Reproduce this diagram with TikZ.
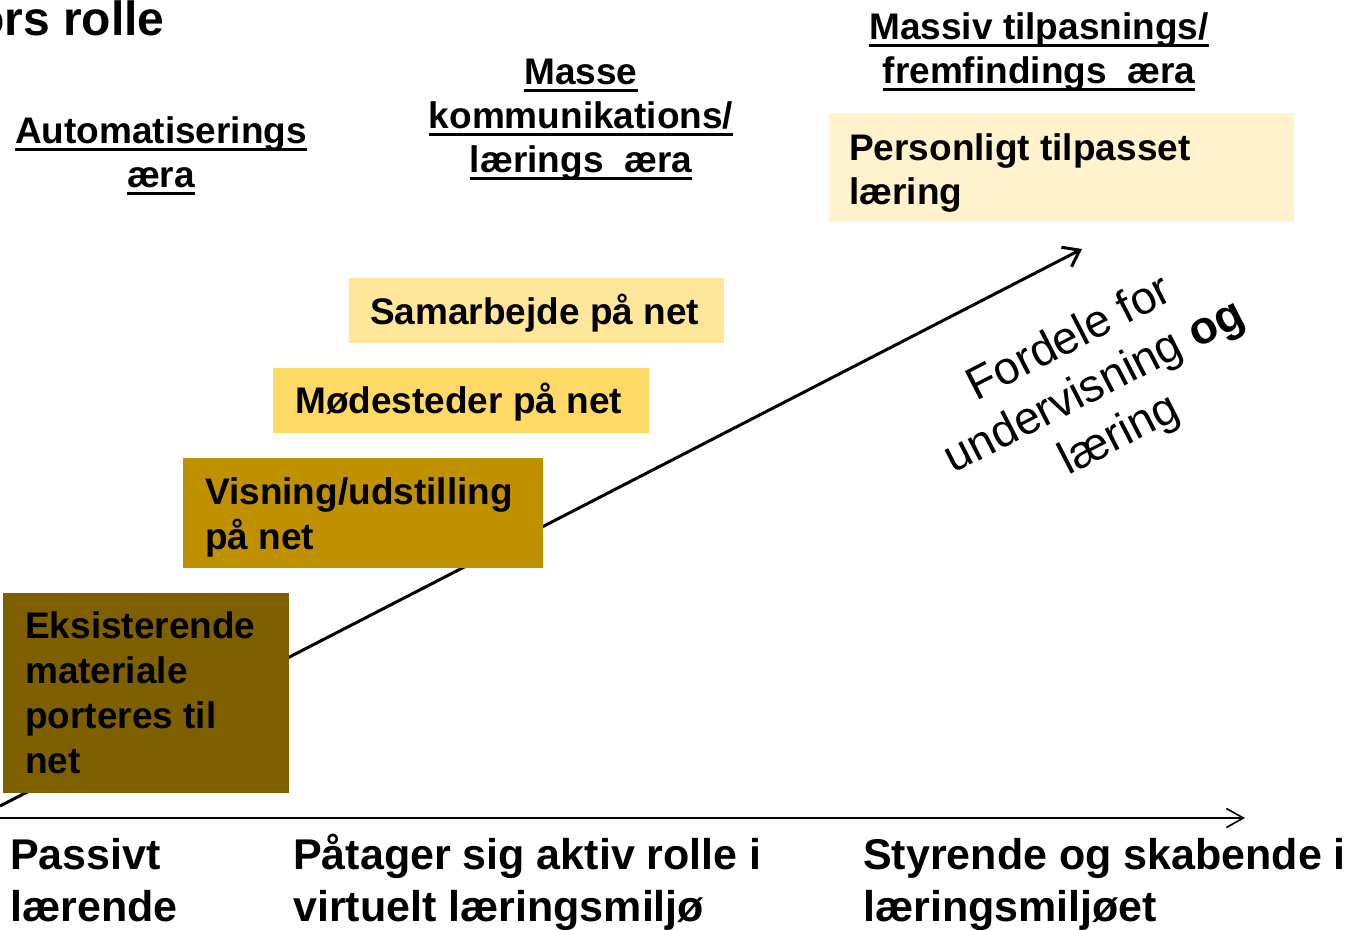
\documentclass[tikz,border=0pt]{standalone}
\usepackage{fontspec}
\setmainfont{Liberation Sans}
\usetikzlibrary{arrows.meta}
\definecolor{cDark}{HTML}{7F6000}
\definecolor{cGold}{HTML}{BF9000}
\definecolor{cMid}{HTML}{FFD966}
\definecolor{cLight}{HTML}{FFE699}
\definecolor{cPale}{HTML}{FFF2CC}
\newcommand\myul[1]{\setbox0\hbox{#1}\rlap{\rule[-8pt]{\wd0}{3pt}}\box0}
\begin{document}
\begin{tikzpicture}[x=1pt,y=-1pt,
  boxfill/.style={draw=none, inner sep=0pt, anchor=north west},
  boxtxt/.style={anchor=base west, inner sep=0pt, font=\fontsize{37}{45}\selectfont\bfseries},
  head/.style={anchor=base, inner sep=0pt, font=\fontsize{37}{44}\selectfont\bfseries},
  role/.style={anchor=base west, inner sep=0pt, font=\fontsize{43}{52}\selectfont\bfseries},
  diag/.style={line width=3pt, -{Straight Barb[length=15pt,width=22pt]}},
  axis/.style={line width=1.6pt, -{Straight Barb[length=17pt,width=19pt]}}]
\useasboundingbox (0,0) rectangle (1349,929);
\clip (0,0) rectangle (1349,929);

% title (cut off)
\node[anchor=base west, inner sep=0pt, font=\fontsize{48}{55}\selectfont\bfseries] (title) at (-25,35) {ors rolle};

% era headers
\node[head] (h1) at (161,143) {\begin{tabular}[t]{@{}c@{}}\myul{Automatiserings}\\\myul{æra}\end{tabular}};
\node[head] (h2) at (581,84) {\begin{tabular}[t]{@{}c@{}}\myul{Masse}\\\myul{kommunikations/}\\\myul{lærings\ \ æra}\end{tabular}};
\node[head] (h3) at (1039,39) {\begin{tabular}[t]{@{}c@{}}\myul{Massiv tilpasnings/}\\\myul{fremfindings\ \ æra}\end{tabular}};

% diagonal arrow (behind boxes)
\coordinate (d0) at (0,806);
\coordinate (d1) at (1082,249);
\draw[diag] (d0) -- (d1);

% boxes
\node[boxfill, fill=cDark, minimum width=286pt, minimum height=200pt] (b1) at (3,593) {};
\node[boxtxt] (t1) at (25,638) {\begin{tabular}[t]{@{}l@{}}Eksisterende\\materiale\\porteres til\\net\end{tabular}};

\node[boxfill, fill=cGold, minimum width=360pt, minimum height=110pt] (b2) at (183,458) {};
\node[boxtxt] (t2) at (205,504) {\begin{tabular}[t]{@{}l@{}}Visning/udstilling\\på net\end{tabular}};

\node[boxfill, fill=cMid, minimum width=376pt, minimum height=65pt] (b3) at (273,368) {};
\node[boxtxt] (t3) at (295,413) {Mødesteder på net};

\node[boxfill, fill=cLight, minimum width=375pt, minimum height=65pt] (b4) at (349,278) {};
\node[boxtxt] (t4) at (370,324) {Samarbejde på net};

\node[boxfill, fill=cPale, minimum width=465pt, minimum height=109pt] (b5) at (829,113) {};
\node[boxtxt, font=\fontsize{37}{44}\selectfont\bfseries] (t5) at (849,160) {\begin{tabular}[t]{@{}l@{}}Personligt tilpasset\\læring\end{tabular}};

% rotated label
\node[rotate=27.2, align=center, inner sep=0pt, font=\fontsize{46}{54}\selectfont] (adv) at (1095,388) {Fordele for\\undervisning \textbf{og}\\læring};

% horizontal axis
\coordinate (a0) at (0,818);
\coordinate (a1) at (1245,818);
\draw[axis] (a0) -- (a1);

% roles
\node[role] (r1) at (10,869) {\begin{tabular}[t]{@{}l@{}}Passivt\\lærende\end{tabular}};
\node[role] (r2) at (293,869) {\begin{tabular}[t]{@{}l@{}}Påtager sig aktiv rolle i\\virtuelt læringsmiljø\end{tabular}};
\node[role] (r3) at (863,869) {\begin{tabular}[t]{@{}l@{}}Styrende og skabende i\\læringsmiljøet\end{tabular}};
\end{tikzpicture}
\end{document}
